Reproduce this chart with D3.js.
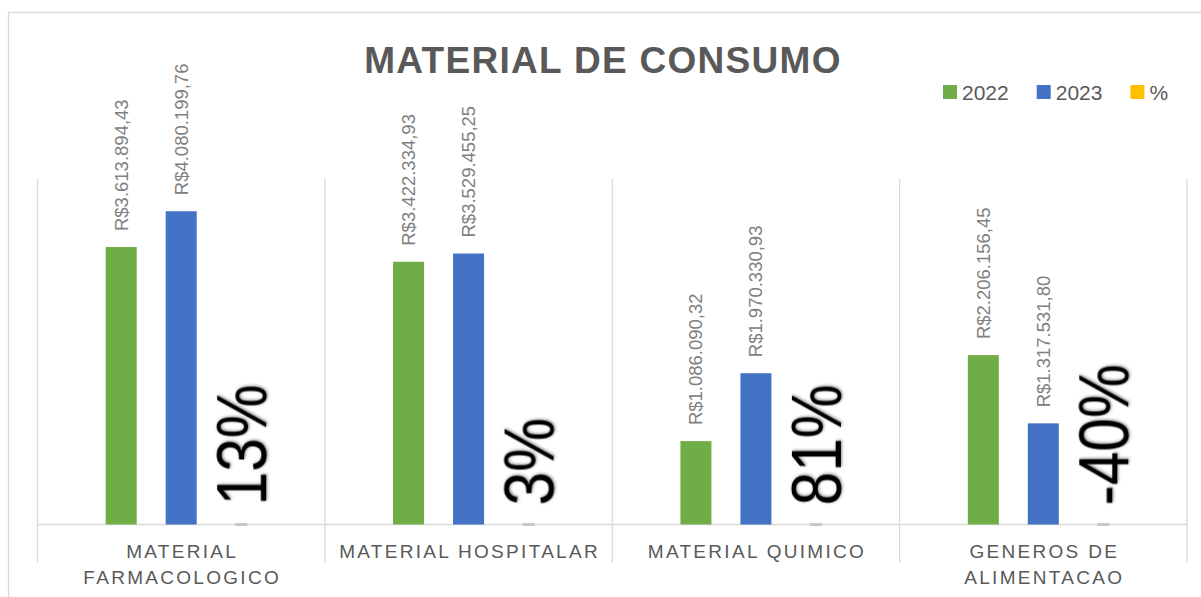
<!DOCTYPE html>
<html>
<head>
<meta charset="utf-8">
<script src="https://cdn.jsdelivr.net/npm/d3@7"></script>
<style>
  body { margin: 0; background: #fff; }
  text { font-family: "Liberation Sans", Arial, sans-serif; }
</style>
</head>
<body>
<div id="chart"></div>
<script>
// data
const categories = ['MATERIAL FARMACOLOGICO', 'MATERIAL HOSPITALAR', 'MATERIAL QUIMICO', 'GENEROS DE ALIMENTACAO'];
const values2022 = [3613894.43, 3422334.93, 1086090.32, 2206156.45];
const values2023 = [4080199.76, 3529455.25, 1970330.93, 1317531.80];
const pctValues = [0.13, 0.03, 0.81, -0.40];
const seriesNames = ['2022', '2023', '%'];
const colors = { '2022': '#70AD47', '2023': '#4472C4', '%': '#FFC000' };

const width = 1201, height = 597;
const margin = { left: 37.5, right: 14, top: 179, bottom: 72.5 };

const svg = d3.select('#chart').append('svg')
  .attr('width', width)
  .attr('height', height);

const defs = svg.append('defs');
defs.append('filter').attr('id', 'shadow')
  .attr('x', '-20%').attr('y', '-20%').attr('width', '140%').attr('height', '140%')
  .append('feDropShadow')
  .attr('dx', 1).attr('dy', 1).attr('stdDeviation', 1.6)
  .attr('flood-color', '#000').attr('flood-opacity', 0.45);

// chart border
svg.append('rect')
  .attr('x', 8.5).attr('y', 12.5)
  .attr('width', 1300).attr('height', 700)
  .attr('fill', 'none').attr('stroke', '#d9d9d9').attr('stroke-width', 1.3);

const x0 = d3.scaleBand()
  .domain(categories)
  .range([margin.left, width - margin.right]);

const bw = x0.bandwidth();
const x1 = d3.scaleBand()
  .domain(seriesNames)
  .range([bw / 2 - 90, bw / 2 + 90])
  .paddingInner(0.483)
  .paddingOuter(0.2415);

const y = d3.scaleLinear()
  .domain([0, 4500000])
  .range([height - margin.bottom, margin.top]);

const y0 = y(0);

// vertical category gridlines
const bounds = categories.map(c => x0(c)).concat([x0(categories[categories.length - 1]) + bw]);
svg.append('g').selectAll('line')
  .data(bounds)
  .enter().append('line')
  .attr('x1', d => d).attr('x2', d => d)
  .attr('y1', margin.top).attr('y2', y0 + 38.5)
  .attr('stroke', '#d9d9d9').attr('stroke-width', 1.3);

// axis line
svg.append('line')
  .attr('x1', margin.left).attr('x2', width - margin.right)
  .attr('y1', y0).attr('y2', y0)
  .attr('stroke', '#d9d9d9').attr('stroke-width', 1.3);

const rows = categories.map((c, i) => ({ cat: c, '2022': values2022[i], '2023': values2023[i], '%': pctValues[i] }));

const groups = svg.append('g').selectAll('g')
  .data(rows)
  .enter().append('g')
  .attr('transform', d => `translate(${x0(d.cat)},0)`);

const fmtBR = v => 'R$' + v.toLocaleString('pt-BR', { minimumFractionDigits: 2, maximumFractionDigits: 2 });

['2022', '2023'].forEach(k => {
  groups.append('rect')
    .attr('x', x1(k))
    .attr('y', d => y(d[k]))
    .attr('width', x1.bandwidth())
    .attr('height', d => y0 - y(d[k]))
    .attr('fill', colors[k]);

  groups.append('text')
    .attr('transform', d => `translate(${x1(k) + x1.bandwidth() / 2 + 6.5},${y(d[k]) - 16}) rotate(-90)`)
    .attr('font-size', 18.5)
    .attr('fill', '#808080')
    .text(d => fmtBR(d[k]));
});

// % series: tiny marks at baseline + big labels
groups.append('rect')
  .attr('x', x1('%') + x1.bandwidth() / 2 - 6)
  .attr('y', y0 - 1.5)
  .attr('width', 12)
  .attr('height', 3)
  .attr('fill', '#c8c8c8');

groups.append('text')
  .attr('transform', `translate(${x1('%') + x1.bandwidth() / 2 + 25},${y0 - 19}) rotate(-90) scale(0.865,1)`)
  .attr('font-size', 70)
  .attr('fill', '#000')
  .attr('filter', 'url(#shadow)')
  .text(d => Math.round(d['%'] * 100) + '%');

// category labels (wrapped)
const maxLabel = bw - 20;
groups.each(function(d) {
  const g = d3.select(this);
  const t = g.append('text')
    .attr('text-anchor', 'middle')
    .attr('font-size', 19)
    .attr('letter-spacing', 2.3)
    .attr('fill', '#595959');
  const words = d.cat.split(' ');
  let lines = [], line = [];
  const probe = t.append('tspan');
  words.forEach(w => {
    const trial = line.concat([w]).join(' ');
    probe.text(trial);
    if (probe.node().getComputedTextLength() > maxLabel && line.length) {
      lines.push(line.join(' '));
      line = [w];
    } else line.push(w);
  });
  lines.push(line.join(' '));
  probe.remove();
  lines.forEach((l, i) => {
    t.append('tspan')
      .attr('x', bw / 2 + 1)
      .attr('y', y0 + 33.5 + i * 26)
      .text(l);
  });
});

// title
svg.append('text')
  .attr('x', 603)
  .attr('y', 73)
  .attr('text-anchor', 'middle')
  .attr('font-size', 37)
  .attr('font-weight', 'bold')
  .attr('letter-spacing', 1.3)
  .attr('fill', '#595959')
  .text('MATERIAL DE CONSUMO');

// legend
const legend = svg.append('g').attr('transform', 'translate(943,85)');
let lx = 0;
seriesNames.forEach(k => {
  const item = legend.append('g').attr('transform', `translate(${lx},0)`);
  item.append('rect').attr('width', 14).attr('height', 14).attr('fill', colors[k]);
  const txt = item.append('text')
    .attr('x', 19).attr('y', 14.5)
    .attr('font-size', 21)
    .attr('fill', '#595959')
    .text(k);
  lx += 19 + txt.node().getComputedTextLength() + 28;
});
</script>
</body>
</html>
